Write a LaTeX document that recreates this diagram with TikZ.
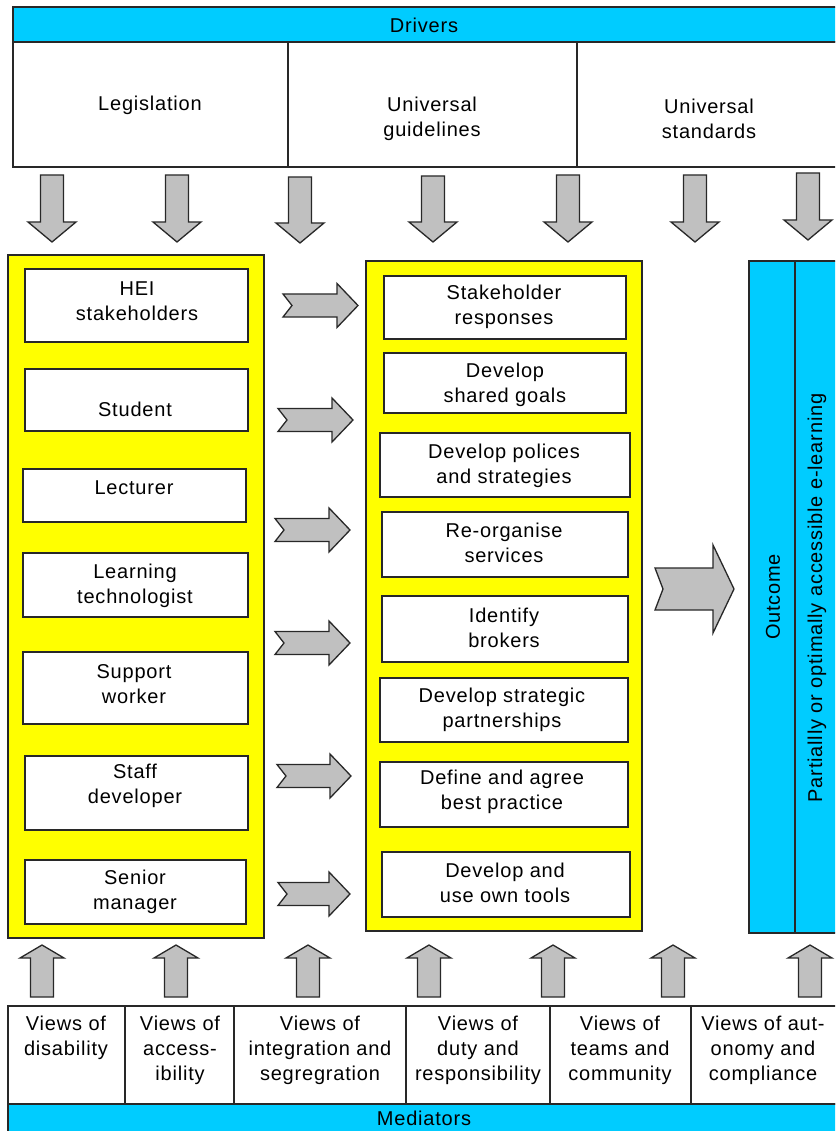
\documentclass[tikz,border=0pt]{standalone}
\usepackage{fontspec}
\setmainfont{Liberation Sans}[LetterSpace=4]
\definecolor{cyanbar}{RGB}{0,204,255}
\definecolor{ylw}{RGB}{255,255,0}
\definecolor{arrowgray}{RGB}{192,192,192}
\definecolor{edge}{RGB}{40,40,40}
\newcommand\BoxAt[6]{\node[#6, minimum width={#4-#2}, minimum height={#5-#3}] (#1) at ({(#2+#4)/2},{(#3+#5)/2}) {};}
\newcommand\DArrow[4]{\draw[blockarrow] (#1-11.5,#2) -- (#1+11.5,#2) -- (#1+11.5,#3) -- (#1+24,#3) -- (#1,#4) -- (#1-24,#3) -- (#1-11.5,#3) -- cycle;}
\newcommand\UArrow[1]{\draw[blockarrow] (#1-11.5,997) -- (#1+11.5,997) -- (#1+11.5,958) -- (#1+22,958) -- (#1,945) -- (#1-22,958) -- (#1-11.5,958) -- cycle;}
\newcommand\RArrow[6]{\draw[blockarrow] (#1,#2-#4) -- (#3-21,#2-#4) -- (#3-21,#2-#5) -- (#3,#2) -- (#3-21,#2+#5) -- (#3-21,#2+#4) -- (#1,#2+#4) -- (#1+#6,#2) -- cycle;}
\begin{document}
\begin{tikzpicture}[x=1pt,y=-1pt,
  panel/.style={draw=edge, line width=1.6pt, fill=ylw, inner sep=0pt},
  wbox/.style={draw=edge, line width=1.6pt, fill=white, inner sep=0pt},
  cbox/.style={draw=edge, line width=1.6pt, fill=cyanbar, inner sep=0pt},
  blockarrow/.style={draw=edge, line width=1.3pt, fill=arrowgray, line join=miter},
  txt/.style={font=\fontsize{20}{25}\selectfont, align=center, inner sep=0pt, text=black}]
\useasboundingbox (0,0) rectangle (835,1131);
\clip (0,0) rectangle (835,1131);
\fill[white] (0,0) rectangle (835,1131);

% Drivers
\BoxAt{drivers}{13}{7}{845}{42}{cbox}
\node[txt] (drivers-t) at (424,25) {Drivers};
\BoxAt{legis}{13}{42}{288}{167}{wbox}
\BoxAt{guide}{288}{42}{577}{167}{wbox}
\BoxAt{stand}{577}{42}{845}{167}{wbox}
\node[txt] (legis-t) at (150,105) {Legislation};
\node[txt] (guide-t) at (432,119) {Universal\\guidelines};
\node[txt] (stand-t) at (709,119) {Universal\\standards};

% down arrows
\DArrow{52}{175}{222}{242}
\DArrow{177}{175}{222}{242}
\DArrow{300}{177}{223}{243}
\DArrow{433}{176}{222}{242}
\DArrow{568}{175}{222}{242}
\DArrow{695}{175}{222}{242}
\DArrow{808}{173}{220}{240}

% left panel
\BoxAt{lpanel}{8}{255}{264}{938}{panel}
\BoxAt{hei}{25}{269}{248}{342}{wbox}
\BoxAt{student}{25}{369}{248}{431}{wbox}
\BoxAt{lecturer}{23}{469}{246}{522}{wbox}
\BoxAt{learntech}{23}{553}{248}{617}{wbox}
\BoxAt{support}{23}{652}{248}{724}{wbox}
\BoxAt{staffdev}{25}{756}{248}{830}{wbox}
\BoxAt{senior}{25}{860}{246}{924}{wbox}
\node[txt] (hei-t) at (137,301) {HEI\\stakeholders};
\node[txt] (student-t) at (135,409) {Student};
\node[txt] (lecturer-t) at (134,488) {Lecturer};
\node[txt] (learntech-t) at (135,586) {Learning\\technologist};
\node[txt] (support-t) at (134,684) {Support\\worker};
\node[txt] (staffdev-t) at (135,786) {Staff\\developer};
\node[txt] (senior-t) at (135,892) {Senior\\manager};

% right arrows
\RArrow{283}{305.5}{358}{11.5}{22}{9}
\RArrow{278}{420}{353}{11.5}{22}{9}
\RArrow{275}{530}{350}{11.5}{22}{9}
\RArrow{275}{643}{350}{11.5}{22}{9}
\RArrow{277}{776}{351}{11.5}{22}{9}
\RArrow{278}{894}{350}{11.5}{22}{9}

% middle panel
\BoxAt{mpanel}{366}{261}{642}{931}{panel}
\BoxAt{resp}{384}{276}{626}{339}{wbox}
\BoxAt{goals}{384}{353}{626}{413}{wbox}
\BoxAt{polic}{380}{433}{630}{497}{wbox}
\BoxAt{reorg}{382}{512}{628}{577}{wbox}
\BoxAt{brokers}{382}{596}{628}{662}{wbox}
\BoxAt{partner}{380}{678}{628}{742}{wbox}
\BoxAt{bestpr}{380}{762}{628}{827}{wbox}
\BoxAt{tools}{382}{852}{630}{917}{wbox}
\node[txt] (resp-t) at (504,307) {Stakeholder\\responses};
\node[txt] (goals-t) at (505,385) {Develop\\shared goals};
\node[txt] (polic-t) at (504,466) {Develop polices\\and strategies};
\node[txt] (reorg-t) at (504,543) {Re-organise\\services};
\node[txt] (brokers-t) at (504,628) {Identify\\brokers};
\node[txt] (partner-t) at (502,710) {Develop strategic\\partnerships};
\node[txt] (bestpr-t) at (502,792) {Define and agree\\best practice};
\node[txt] (tools-t) at (505,883) {Develop and\\use own tools};

% big arrow
\RArrow{655}{589}{734}{21}{44}{8}

% outcome panel
\BoxAt{outcome}{749}{261}{795}{933}{cbox}
\BoxAt{result}{795}{261}{845}{933}{cbox}
\node[txt, rotate=90] (outcome-t) at (773,597) {Outcome};
\node[txt, rotate=90] (result-t) at (817,598) {Partiallly or optimally accessible e-learning};

% up arrows
\UArrow{42}
\UArrow{176}
\UArrow{308}
\UArrow{429}
\UArrow{553}
\UArrow{673}
\UArrow{810}

% mediators
\BoxAt{vdis}{8}{1006}{125}{1104}{wbox}
\BoxAt{vacc}{125}{1006}{234}{1104}{wbox}
\BoxAt{vint}{234}{1006}{406}{1104}{wbox}
\BoxAt{vduty}{406}{1006}{550}{1104}{wbox}
\BoxAt{vteam}{550}{1006}{691}{1104}{wbox}
\BoxAt{vaut}{691}{1006}{845}{1104}{wbox}
\node[txt, anchor=north] (vdis-t) at (66,1016) {Views of\\disability};
\node[txt, anchor=north] (vacc-t) at (180,1016) {Views of\\access-\\ibility};
\node[txt, anchor=north] (vint-t) at (320,1016) {Views of\\integration and\\segregration};
\node[txt, anchor=north] (vduty-t) at (478,1016) {Views of\\duty and\\responsibility};
\node[txt, anchor=north] (vteam-t) at (620,1016) {Views of\\teams and\\community};
\node[txt, anchor=north] (vaut-t) at (763,1016) {Views of aut-\\onomy and\\compliance};
\BoxAt{mediators}{8}{1104}{845}{1145}{cbox}
\node[txt] (mediators-t) at (424,1118.5) {Mediators};
\end{tikzpicture}
\end{document}
